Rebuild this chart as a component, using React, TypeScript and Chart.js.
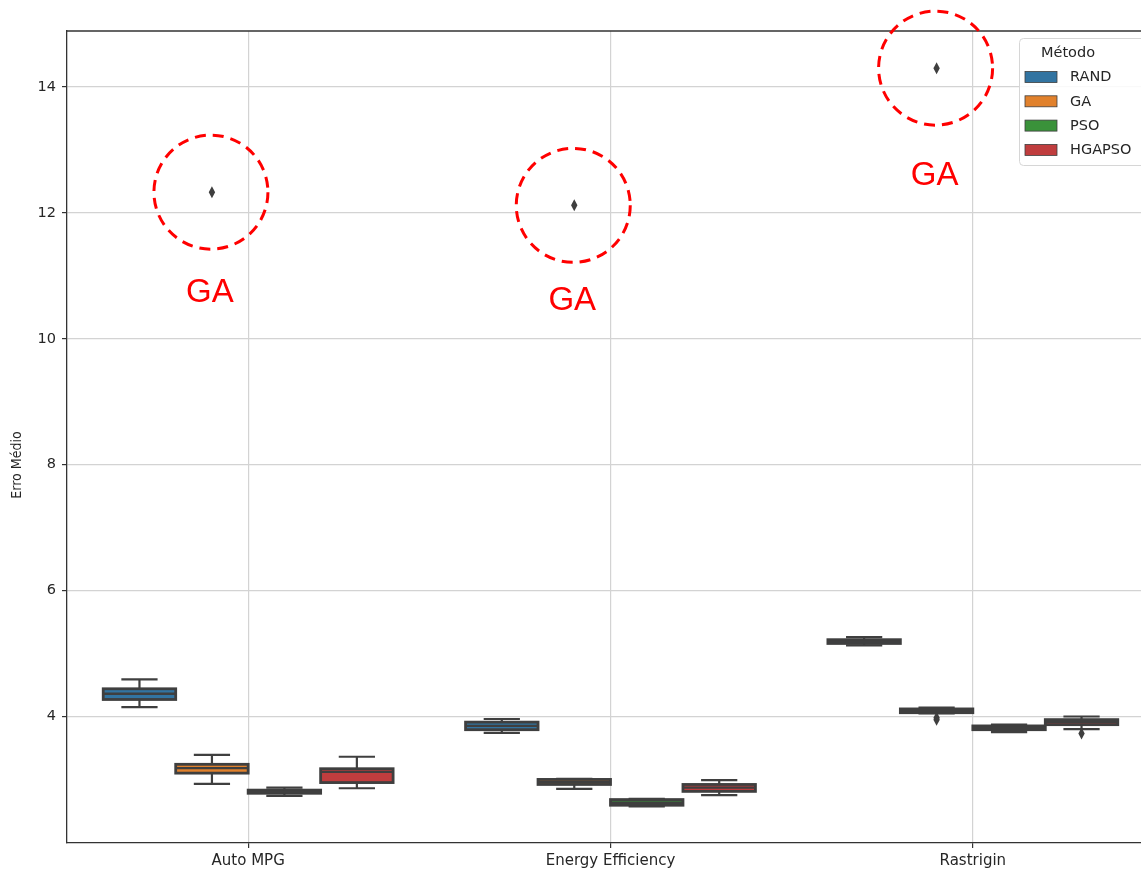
import { useEffect, useRef } from 'react';
import { Chart, registerables } from 'chart.js';

Chart.register(...registerables);

// Benchmark categories and optimisation methods
const categories = ['Auto MPG', 'Energy Efficiency', 'Rastrigin'];
const methods = ['RAND', 'GA', 'PSO', 'HGAPSO'];
const yTicks = [4, 6, 8, 10, 12, 14];
const yMin = 1.99;
const yMax = 14.89;

// Five-number summaries per category: [min, q1, median, q3, max]
const randStats = [
  [4.15, 4.27, 4.36, 4.44, 4.59],
  [3.74, 3.79, 3.85, 3.91, 3.96],
  [5.13, 5.16, 5.19, 5.22, 5.26],
];
const gaStats = [
  [2.93, 3.1, 3.18, 3.24, 3.39],
  [2.85, 2.92, 2.96, 3.0, 3.01],
  [4.05, 4.06, 4.09, 4.12, 4.14],
];
const psoStats = [
  [2.74, 2.78, 2.8, 2.83, 2.87],
  [2.57, 2.59, 2.63, 2.68, 2.69],
  [3.75, 3.79, 3.82, 3.85, 3.87],
];
const hgapsoStats = [
  [2.86, 2.95, 3.12, 3.17, 3.36],
  [2.75, 2.81, 2.87, 2.92, 2.99],
  [3.8, 3.87, 3.91, 3.95, 4.0],
];

// Points beyond the whiskers, per category
const randOutliers = [[], [], []];
const gaOutliers = [[12.33], [12.12], [14.3, 3.98, 3.95]];
const psoOutliers = [[], [], []];
const hgapsoOutliers = [[], [], [3.73]];

const allStats = [randStats, gaStats, psoStats, hgapsoStats];
const allOutliers = [randOutliers, gaOutliers, psoOutliers, hgapsoOutliers];

// Large GA outliers get a dashed red callout
const calloutMethod = 'GA';
const calloutThreshold = 10;

// Styling
const COLORS = ['#3274a1', '#e1812c', '#3a923a', '#c03d3e'];
const EDGE = '#3f3f3f';
const AXIS = '#333333';
const GRID = '#d3d3d3';
const TEXT = '#262626';
const FONT = 'DejaVu Sans';
const CANVAS_W = 1170;
const CANVAS_H = 872;
const PLOT_RIGHT = 1154;
const CALLOUT_RADIUS = 57;
const CALLOUT_TEXT_DROP = [101, 96, 108];

const boxPlugin = {
  id: 'boxDetails',
  afterDatasetsDraw(chart: any) {
    const ctx = chart.ctx as CanvasRenderingContext2D;
    const ys = chart.scales.y;
    chart.data.datasets.forEach((_: any, di: number) => {
      const meta = chart.getDatasetMeta(di);
      meta.data.forEach((bar: any, ci: number) => {
        const { x, width } = bar.getProps(['x', 'width'], true);
        const [mn, q1, md, q3, mx] = allStats[di][ci];
        const py = (v: number) => ys.getPixelForValue(v);
        ctx.save();
        ctx.strokeStyle = EDGE;
        ctx.lineCap = 'butt';
        const seg = (x1: number, y1: number, x2: number, y2: number) => {
          ctx.beginPath();
          ctx.moveTo(x1, y1);
          ctx.lineTo(x2, y2);
          ctx.stroke();
        };
        // box outline centred on the quartiles
        ctx.lineWidth = 2.8;
        ctx.strokeRect(x - width / 2, py(q3), width, py(q1) - py(q3));
        // median
        ctx.lineWidth = 2.4;
        seg(x - width / 2, py(md), x + width / 2, py(md));
        // whiskers and caps
        ctx.lineWidth = 2.2;
        seg(x, py(q3), x, py(mx));
        seg(x, py(q1), x, py(mn));
        seg(x - width / 4, py(mx), x + width / 4, py(mx));
        seg(x - width / 4, py(mn), x + width / 4, py(mn));
        // outliers as thin diamonds
        ctx.fillStyle = EDGE;
        allOutliers[di][ci].forEach((v: number) => {
          const oy = py(v);
          ctx.beginPath();
          ctx.moveTo(x, oy - 6);
          ctx.lineTo(x + 3.2, oy);
          ctx.lineTo(x, oy + 6);
          ctx.lineTo(x - 3.2, oy);
          ctx.closePath();
          ctx.fill();
        });
        ctx.restore();
      });
    });
  },
  afterDraw(chart: any) {
    const ctx = chart.ctx as CanvasRenderingContext2D;
    const area = chart.chartArea;
    const ys = chart.scales.y;
    ctx.save();
    // top and right spines
    ctx.strokeStyle = AXIS;
    ctx.lineWidth = 1.3;
    ctx.beginPath();
    ctx.moveTo(area.left, area.top);
    ctx.lineTo(area.right, area.top);
    ctx.lineTo(area.right, area.bottom);
    ctx.stroke();

    // y-axis title
    ctx.save();
    ctx.translate(17, 465);
    ctx.rotate(-Math.PI / 2);
    ctx.fillStyle = TEXT;
    ctx.font = '14px "DejaVu Sans Condensed"';
    ctx.textAlign = 'center';
    ctx.textBaseline = 'middle';
    ctx.fillText('Erro Médio', 0, 0);
    ctx.restore();

    // legend
    const lx = 1019;
    const ly = 38;
    ctx.fillStyle = 'rgba(255,255,255,0.85)';
    ctx.strokeStyle = '#d6d6d6';
    ctx.lineWidth = 1;
    ctx.beginPath();
    ctx.roundRect(lx + 0.5, ly + 0.5, 130, 127, 4);
    ctx.fill();
    ctx.stroke();
    ctx.fillStyle = TEXT;
    ctx.font = `14.5px "${FONT}"`;
    ctx.textAlign = 'center';
    ctx.textBaseline = 'middle';
    ctx.fillText('Método', 1068, 53);
    methods.forEach((m, i) => {
      const cy = 77 + i * 24.3;
      ctx.fillStyle = COLORS[i];
      ctx.fillRect(1025, cy - 5.5, 32, 11);
      ctx.strokeStyle = EDGE;
      ctx.lineWidth = 0.8;
      ctx.strokeRect(1025, cy - 5.5, 32, 11);
      ctx.fillStyle = TEXT;
      ctx.textAlign = 'left';
      ctx.font = `14.5px "${FONT}"`;
      ctx.fillText(m, 1070, cy + 0.5);
    });

    // callouts around the large GA outliers
    const di = methods.indexOf(calloutMethod);
    const meta = chart.getDatasetMeta(di);
    meta.data.forEach((bar: any, ci: number) => {
      const { x } = bar.getProps(['x'], true);
      allOutliers[di][ci]
        .filter((v: number) => v > calloutThreshold)
        .forEach((v: number) => {
          const oy = ys.getPixelForValue(v);
          ctx.strokeStyle = '#ff0000';
          ctx.lineWidth = 3;
          ctx.setLineDash([11, 7]);
          ctx.beginPath();
          ctx.arc(x - 1, oy, CALLOUT_RADIUS, 0, Math.PI * 2);
          ctx.stroke();
          ctx.setLineDash([]);
          ctx.fillStyle = '#ff0000';
          ctx.font = '33px "Liberation Sans"';
          ctx.textAlign = 'center';
          ctx.textBaseline = 'middle';
          ctx.fillText(calloutMethod, x - 2, oy + CALLOUT_TEXT_DROP[ci]);
        });
    });
    ctx.restore();
  },
};

export default function App() {
  const canvasRef = useRef<HTMLCanvasElement | null>(null);

  useEffect(() => {
    if (!canvasRef.current) return;
    const chart = new Chart(canvasRef.current, {
      type: 'bar',
      data: {
        labels: categories,
        datasets: methods.map((m, i) => ({
          label: m,
          data: allStats[i].map((s) => [s[1], s[3]]),
          backgroundColor: COLORS[i],
          borderWidth: 0,
          categoryPercentage: 0.8,
          barPercentage: 1,
        })),
      },
      options: {
        responsive: false,
        animation: false,
        devicePixelRatio: 1,
        layout: { padding: { left: 0, top: 31, right: CANVAS_W - PLOT_RIGHT, bottom: 0 } },
        plugins: { legend: { display: false }, tooltip: { enabled: false } },
        scales: {
          x: {
            offset: true,
            grid: { offset: false, color: GRID, lineWidth: 1.2, tickLength: 5, tickColor: AXIS },
            border: { color: AXIS, width: 1.3 },
            ticks: { color: TEXT, font: { family: FONT, size: 15 }, padding: 4 },
            afterFit: (s: any) => {
              s.height = 29;
            },
          },
          y: {
            min: yMin,
            max: yMax,
            afterBuildTicks: (s: any) => {
              s.ticks = yTicks.map((v) => ({ value: v }));
            },
            grid: { color: GRID, lineWidth: 1.2, tickLength: 5, tickColor: AXIS },
            border: { color: AXIS, width: 1.3 },
            ticks: { color: TEXT, font: { family: FONT, size: 14.5 }, padding: 6 },
            afterFit: (s: any) => {
              s.width = 67;
            },
          },
        },
      },
      plugins: [boxPlugin],
    } as any);
    return () => chart.destroy();
  }, []);

  return (
    <div
      style={{
        position: 'fixed',
        left: 0,
        top: 0,
        width: 1141,
        height: 872,
        overflow: 'hidden',
        background: '#fff',
      }}
    >
      <canvas ref={canvasRef} width={CANVAS_W} height={CANVAS_H} style={{ display: 'block' }} />
    </div>
  );
}
